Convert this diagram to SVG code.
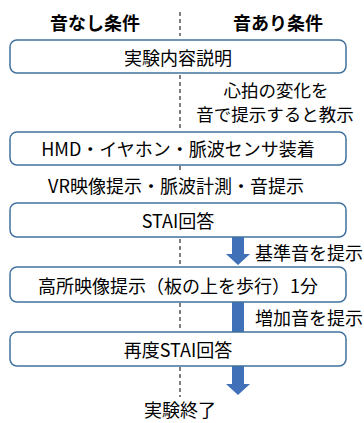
<svg xmlns="http://www.w3.org/2000/svg" width="364" height="423" viewBox="0 0 364 423">
<style>
.box{fill:#fff;stroke:#41719C;stroke-width:1.5}
.t{font-family:"Noto Sans CJK JP","Noto Sans",sans-serif;font-size:18px;fill:#000;text-anchor:middle;dominant-baseline:central}
.h{font-weight:bold}
.l{text-anchor:start}
.s{font-size:17.5px}
.dash{stroke:#000;stroke-width:1;stroke-dasharray:4 3;fill:none}
.arr{fill:#3F70B8}
</style>
<rect width="364" height="423" fill="#fff"/>
<g id="connectors">
<line class="dash" x1="180" y1="12" x2="180" y2="36"/>
<line class="dash" x1="180" y1="75" x2="180" y2="130"/>
<line class="dash" x1="180" y1="166" x2="180" y2="171"/>
<line class="dash" x1="180" y1="239" x2="180" y2="266"/>
<line class="dash" x1="180" y1="303" x2="180" y2="331"/>
<line class="dash" x1="180" y1="367" x2="180" y2="397"/>
<polygon class="arr" points="232,237 244,237 244,254 250,254 238,265 226,254 232,254"/>
<rect class="arr" x="232" y="302" width="12" height="30"/>
<polygon class="arr" points="232,366 244,366 244,384 250,384 238,395 226,384 232,384"/>
</g>
<g id="header">
<text class="t h" x="95" y="22">音なし条件</text>
<text class="t h" x="278" y="22">音あり条件</text>
</g>
<g id="n1"><rect class="box" x="10" y="40" width="336" height="33" rx="7"/><text class="t" x="178" y="57">実験内容説明</text></g>
<g id="note1"><text class="t s" x="276" y="89">心拍の変化を</text><text class="t s" x="275" y="113">音で提示すると教示</text></g>
<g id="n2"><rect class="box" x="10" y="132" width="336" height="33" rx="7"/><text class="t" x="178" y="148">HMD・イヤホン・脈波センサ装着</text></g>
<g id="note2"><text class="t" x="176" y="185">VR映像提示・脈波計測・音提示</text></g>
<g id="n3"><rect class="box" x="10" y="203" width="336" height="34" rx="7"/><text class="t" x="178" y="220">STAI回答</text></g>
<g id="note3"><text class="t l" x="255" y="252">基準音を提示</text></g>
<g id="n4"><rect class="box" x="10" y="267" width="336" height="35" rx="7"/><text class="t" x="178" y="285">高所映像提示（板の上を歩行）1分</text></g>
<g id="note4"><text class="t l" x="255" y="317">増加音を提示</text></g>
<g id="n5"><rect class="box" x="10" y="332" width="336" height="34" rx="7"/><text class="t" x="178" y="349">再度STAI回答</text></g>
<g id="end"><text class="t" x="180" y="409">実験終了</text></g>
</svg>
